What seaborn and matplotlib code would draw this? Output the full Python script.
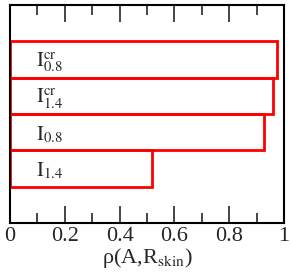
import matplotlib
matplotlib.use("Agg")
import matplotlib.pyplot as plt
import seaborn as sns
import pandas as pd
from matplotlib.ticker import MultipleLocator

# values, top bar first
labels = [r"$\mathrm{I}^{\mathrm{cr}}_{0.8}$", r"$\mathrm{I}^{\mathrm{cr}}_{1.4}$",
          r"$\mathrm{I}_{0.8}$", r"$\mathrm{I}_{1.4}$"]
rho = [0.974, 0.96, 0.927, 0.518]
x_ticks = [0, 0.2, 0.4, 0.6, 0.8, 1]
x_ticklabels = ["0", "0.2", "0.4", "0.6", "0.8", "1"]

sns.set_style("ticks")
plt.rcParams["font.family"] = ["Liberation Serif", "DejaVu Serif"]
plt.rcParams["mathtext.fontset"] = "stix"

df = pd.DataFrame({"label": labels, "rho": rho})

fig = plt.figure(figsize=(2.91, 2.75), dpi=100)
ax = fig.add_axes([0.0344, 0.189, 0.942, 0.793])

sns.barplot(data=df, x="rho", y="label", orient="h", fill=False,
            color="red", linewidth=2, width=1, ax=ax)

for i, lab in enumerate(labels):
    ax.text(0.095, i + 0.08, lab, fontsize=15, ha="left", va="center")

ax.set_xlim(0, 1)
ax.set_ylim(4.5, -1.5)
ax.set_yticks([])
ax.set_ylabel("")
ax.set_xticks(x_ticks)
ax.set_xticklabels(x_ticklabels, fontsize=16)
ax.xaxis.set_minor_locator(MultipleLocator(0.1))
ax.tick_params(axis="x", which="major", direction="in", length=12, width=1.2,
               top=True, pad=3)
ax.tick_params(axis="x", which="minor", direction="in", length=7.5, width=1.2,
               top=True)
ax.set_xlabel("ρ(A,R$_{\\mathrm{skin}}$)", fontsize=16, labelpad=0)

for s in ax.spines.values():
    s.set_visible(True)
    s.set_linewidth(1.5)
    s.set_color("black")

fig.savefig("out.png", dpi=100)
